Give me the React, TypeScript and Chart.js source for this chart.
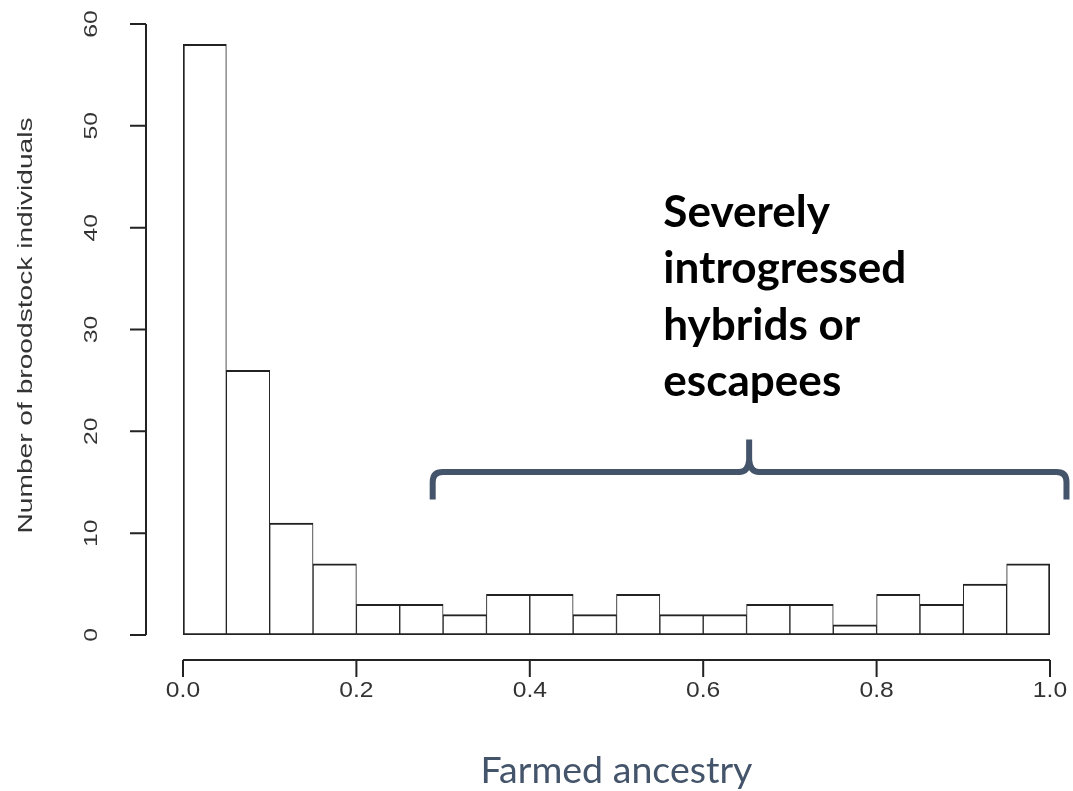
import React, { useEffect, useRef } from "react";
import { Chart, registerables } from "chart.js";

Chart.register(...registerables);

// ---- data ----
const binStarts = [0, 0.05, 0.1, 0.15, 0.2, 0.25, 0.3, 0.35, 0.4, 0.45, 0.5, 0.55, 0.6, 0.65, 0.7, 0.75, 0.8, 0.85, 0.9, 0.95];
const counts = [58, 26, 11, 7, 3, 3, 2, 4, 4, 2, 4, 2, 2, 3, 3, 1, 4, 3, 5, 7];
const binWidth = 0.05;
const xTickValues = [0, 0.2, 0.4, 0.6, 0.8, 1.0];
const xTickLabels = ["0.0", "0.2", "0.4", "0.6", "0.8", "1.0"];
const yTickValues = [0, 10, 20, 30, 40, 50, 60];
const yTickLabels = ["0", "10", "20", "30", "40", "50", "60"];
const xTitle = "Farmed ancestry";
const yTitle = "Number of broodstock individuals";
const noteLines = ["Severely", "introgressed", "hybrids or", "escapees"];

// ---- annotation geometry (data units) ----
const bracket = { left: 0.288, right: 1.019, peak: 0.653, base: 16.0, ends: 13.3, top: 19.2 };
const note = { x: 0.554, firstBaseline: 40.1, step: 5.55 };

const AXIS = "#222222";
const SLATE = "#44546A";

const rAxesPlugin = {
  id: "rAxes",
  afterDraw(chart: any) {
    const { ctx } = chart;
    const xs = chart.scales.x;
    const ys = chart.scales.y;
    const X = (v: number) => xs.getPixelForValue(v);
    const Y = (v: number) => ys.getPixelForValue(v);

    ctx.save();
    ctx.strokeStyle = AXIS;
    ctx.fillStyle = AXIS;
    ctx.lineWidth = 2;
    ctx.lineCap = "butt";

    // y axis (R style, offset to the left)
    const yAxisX = X(0) - 37;
    ctx.beginPath();
    ctx.moveTo(yAxisX, Y(yTickValues[0]));
    ctx.lineTo(yAxisX, Y(yTickValues[yTickValues.length - 1]));
    yTickValues.forEach((v) => {
      ctx.moveTo(yAxisX, Y(v));
      ctx.lineTo(yAxisX - 16, Y(v));
    });
    ctx.stroke();

    ctx.font = "19px 'Liberation Sans', Arial, sans-serif";
    ctx.textAlign = "center";
    ctx.textBaseline = "middle";
    ctx.fillStyle = "#333333";
    yTickValues.forEach((v, i) => {
      ctx.save();
      ctx.translate(yAxisX - 54, Y(v));
      ctx.rotate(-Math.PI / 2);
      ctx.scale(1.3, 1);
      ctx.fillText(yTickLabels[i], 0, 0);
      ctx.restore();
    });

    // y title
    ctx.save();
    ctx.font = "21px 'Liberation Sans', Arial, sans-serif";
    ctx.translate(26, (Y(0) + Y(60)) / 2 - 4);
    ctx.rotate(-Math.PI / 2);
    ctx.scale(1.34, 1);
    ctx.fillText(yTitle, 0, 0);
    ctx.restore();

    // x axis (R style, offset below)
    const xAxisY = Y(0) + 25;
    ctx.beginPath();
    ctx.moveTo(X(xTickValues[0]), xAxisY);
    ctx.lineTo(X(xTickValues[xTickValues.length - 1]), xAxisY);
    xTickValues.forEach((v) => {
      ctx.moveTo(X(v), xAxisY);
      ctx.lineTo(X(v), xAxisY + 17);
    });
    ctx.stroke();

    ctx.font = "22px 'Liberation Sans', Arial, sans-serif";
    xTickValues.forEach((v, i) => {
      ctx.save();
      ctx.translate(X(v), xAxisY + 31);
      ctx.scale(1.12, 1);
      ctx.fillText(xTickLabels[i], 0, 0);
      ctx.restore();
    });

    // x title
    ctx.fillStyle = SLATE;
    ctx.textBaseline = "alphabetic";
    let fs = 34;
    ctx.font = `${fs}px Lato, 'Open Sans', sans-serif`;
    const wT = ctx.measureText(xTitle).width;
    fs = fs * 272 / wT;
    ctx.font = `${fs}px Lato, 'Open Sans', sans-serif`;
    ctx.fillText(xTitle, X(0.5), 783);

    // bracket
    const xl = X(bracket.left), xr = X(bracket.right), xp = X(bracket.peak);
    const yb = Y(bracket.base), ye = Y(bracket.ends), yt = Y(bracket.top);
    const r = 10;
    ctx.strokeStyle = SLATE;
    ctx.lineWidth = 6;
    ctx.lineJoin = "round";
    ctx.lineCap = "butt";
    ctx.beginPath();
    ctx.moveTo(xl, ye);
    ctx.lineTo(xl, yb + r);
    ctx.quadraticCurveTo(xl, yb, xl + r, yb);
    ctx.lineTo(xp - 10, yb);
    ctx.quadraticCurveTo(xp - 1, yb, xp, yb - 12);
    ctx.lineTo(xp, yt);
    ctx.moveTo(xp, yb - 12);
    ctx.quadraticCurveTo(xp + 1, yb, xp + 10, yb);
    ctx.lineTo(xr - r, yb);
    ctx.quadraticCurveTo(xr, yb, xr, yb + r);
    ctx.lineTo(xr, ye);
    ctx.stroke();

    // note text
    ctx.fillStyle = "#000000";
    ctx.textAlign = "left";
    let nf = 38;
    ctx.font = `bold ${nf}px Lato, 'Open Sans', sans-serif`;
    const wN = ctx.measureText(noteLines[1]).width;
    nf = nf * 243 / wN;
    ctx.font = `bold ${nf}px Lato, 'Open Sans', sans-serif`;
    noteLines.forEach((line, i) => {
      ctx.fillText(line, X(note.x), Y(note.firstBaseline - i * note.step));
    });

    ctx.restore();
  },
};

export default function App() {
  const ref = useRef<HTMLCanvasElement | null>(null);

  useEffect(() => {
    if (!ref.current) return;
    const n = counts.length;
    const chart = new Chart(ref.current, {
      type: "bar",
      data: {
        datasets: [
          {
            data: binStarts.map((s, i) => ({ x: s + binWidth / 2, y: counts[i] })),
            backgroundColor: "#ffffff",
            borderColor: "#222222",
            borderWidth: (c: any) => ({
              top: 2,
              bottom: 2,
              left: c.dataIndex === 0 ? 2 : 1,
              right: c.dataIndex === n - 1 ? 2 : 1,
            }),
            borderSkipped: false,
            barPercentage: 1,
            categoryPercentage: 1,
          } as any,
        ],
      },
      options: {
        responsive: false,
        animation: false,
        devicePixelRatio: 1,
        layout: { padding: { left: 183, right: 23, top: 24, bottom: 156 } },
        plugins: { legend: { display: false }, tooltip: { enabled: false } },
        scales: {
          x: { type: "linear", min: 0, max: 1, display: false, offset: false },
          y: { type: "linear", min: 0, max: 60, display: false },
        },
      },
      plugins: [rAxesPlugin],
    });
    return () => chart.destroy();
  }, []);

  return (
    <div style={{ position: "fixed", left: 0, top: 0, width: 1073, height: 791, background: "#fff" }}>
      <canvas ref={ref} width={1073} height={791} style={{ display: "block" }} />
    </div>
  );
}
